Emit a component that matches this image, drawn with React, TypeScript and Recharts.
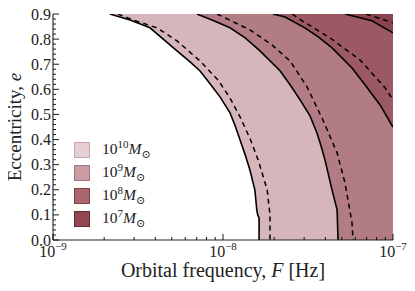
import React from 'react';
import { ComposedChart, Area, Line, XAxis, YAxis } from 'recharts';

// contour edges: [F in Hz, e]
const solid1e10: [number, number][] = [
  [2.16e-9, 0.9], [2.84e-9, 0.876], [3.72e-9, 0.845], [5.36e-9, 0.753], [6.4e-9, 0.709],
  [7.33e-9, 0.673], [8.39e-9, 0.622], [9.6e-9, 0.57], [1.1e-8, 0.506], [1.18e-8, 0.454],
  [1.26e-8, 0.398], [1.35e-8, 0.339], [1.44e-8, 0.279], [1.54e-8, 0.199], [1.58e-8, 0.12],
  [1.6e-8, 0.1], [1.63e-8, 0.088], [1.63e-8, 0],
];
const dashed1e10: [number, number][] = [
  [2.41e-9, 0.9], [2.96e-9, 0.876], [4.09e-9, 0.845], [5.36e-9, 0.793], [7.33e-9, 0.713],
  [9.35e-9, 0.637], [1.1e-8, 0.565], [1.26e-8, 0.49], [1.45e-8, 0.4], [1.61e-8, 0.319],
  [1.82e-8, 0.199], [1.89e-8, 0.1], [1.89e-8, 0],
];
const solid1e9: [number, number][] = [
  [7.03e-9, 0.9], [8.61e-9, 0.876], [1.1e-8, 0.845], [1.35e-8, 0.805], [1.65e-8, 0.753],
  [2.17e-8, 0.673], [2.48e-8, 0.618], [2.84e-8, 0.558], [3.25e-8, 0.494], [3.57e-8, 0.426],
  [3.77e-8, 0.375], [3.98e-8, 0.319], [4.38e-8, 0.199], [4.69e-8, 0.12], [4.75e-8, 0],
];
const dashed1e9: [number, number][] = [
  [9.23e-9, 0.9], [1.44e-8, 0.837], [1.94e-8, 0.777], [2.48e-8, 0.713], [3.12e-8, 0.61],
  [3.87e-8, 0.478], [4.69e-8, 0.347], [5.22e-8, 0.227], [5.74e-8, 0.068], [5.82e-8, 0],
];
const solid1e8: [number, number][] = [
  [1.97e-8, 0.9], [2.32e-8, 0.888], [3.03e-8, 0.845], [3.65e-8, 0.808], [4.38e-8, 0.765],
  [5.74e-8, 0.685], [6.84e-8, 0.618], [8.39e-8, 0.538], [1e-7, 0.45],
];
const dashed1e8: [number, number][] = [
  [2.55e-8, 0.9], [2.92e-8, 0.873], [4.26e-8, 0.805], [6.4e-8, 0.717], [8.98e-8, 0.606], [1e-7, 0.558],
];
const solid1e7: [number, number][] = [[5.22e-8, 0.9], [7.52e-8, 0.873], [1e-7, 0.825]];
const dashed1e7: [number, number][] = [[6.94e-8, 0.9], [1e-7, 0.865]];

const masses = ['10', '9', '8', '7'];
const regionColors = ['#d6b6bb', '#b17c84', '#9c5863', '#8c4350'];
const swatchFill = ['#e4cfd2', '#c99da3', '#aa6770', '#944652'];
const swatchEdge = ['#c6a5aa', '#a5737a', '#7e3f47', '#5e2a31'];

const majorF = [1e-9, 1e-8, 1e-7];
const minorF = [2, 3, 4, 5, 6, 7, 8, 9].flatMap((m) => [m * 1e-9, m * 1e-8]);
const xTicks = [...majorF, ...minorF];
const majorE = [0, 0.1, 0.2, 0.3, 0.4, 0.5, 0.6, 0.7, 0.8, 0.9];
const yTicks = Array.from({ length: 46 }, (_, i) => Math.round(i * 2) / 100);

const FONT = '"Liberation Serif", "DejaVu Serif", serif';
const EMAX = 0.9;

const band = (pts: [number, number][], toBottom: boolean) => {
  const rows = pts.map(([f, e]) => ({ f, band: [e, EMAX] }));
  if (toBottom) rows.push({ f: 1e-7, band: [0, EMAX] });
  return rows;
};
const line = (pts: [number, number][]) => pts.map(([f, e]) => ({ f, e }));

const bands = [band(solid1e10, true), band(solid1e9, true), band(solid1e8, false), band(solid1e7, false)];
const solids = [solid1e10, solid1e9, solid1e8, solid1e7].map(line);
const dashes = [dashed1e10, dashed1e9, dashed1e8, dashed1e7].map(line);

const isMajorF = (v: number) => majorF.some((m) => Math.abs(v - m) / m < 1e-6);
const isMajorE = (v: number) => majorE.some((m) => Math.abs(v - m) < 1e-6);

const BottomTick = ({ x, y, payload }: any) => {
  const v = payload.value;
  const major = isMajorF(v);
  const exp = Math.round(Math.log10(v));
  return (
    <g>
      <line x1={x} x2={x} y1={y} y2={y - (major ? 6 : 3)} stroke="#000" strokeWidth={0.9} />
      {major && (
        <text x={x} y={y + 17} textAnchor="middle" fontSize={16} fontFamily={FONT} fill="#222">
          10<tspan dy={-7} fontSize={11}>{'−' + -exp}</tspan>
        </text>
      )}
    </g>
  );
};

const TopTick = ({ x, y, payload }: any) => (
  <line x1={x} x2={x} y1={y} y2={y + (isMajorF(payload.value) ? 6 : 3)} stroke="#000" strokeWidth={0.9} />
);

const LeftTick = ({ x, y, payload }: any) => {
  const major = isMajorE(payload.value);
  return (
    <g>
      <line x1={x} x2={x + (major ? 6 : 3)} y1={y} y2={y} stroke="#000" strokeWidth={0.9} />
      {major && (
        <text x={x - 2} y={y} dy="0.35em" textAnchor="end" fontSize={16} fontFamily={FONT} fill="#222">
          {payload.value.toFixed(1)}
        </text>
      )}
    </g>
  );
};

const RightTick = ({ x, y, payload }: any) => (
  <line x1={x} x2={x - (isMajorE(payload.value) ? 6 : 3)} y1={y} y2={y} stroke="#000" strokeWidth={0.9} />
);

const XTitle = (props: any) => {
  const { x, y, width } = props.viewBox;
  return (
    <text x={x + width / 2} y={y + 37} textAnchor="middle" fontSize={20} fontFamily={FONT} fill="#222">
      Orbital frequency, <tspan fontStyle="italic">F</tspan> [Hz]
    </text>
  );
};

const YTitle = (props: any) => {
  const { y, height } = props.viewBox;
  const cy = y + height / 2;
  return (
    <text x={21} y={cy} transform={`rotate(-90 21 ${cy})`} textAnchor="middle" fontSize={19} fontFamily={FONT} fill="#222">
      Eccentricity, <tspan fontStyle="italic">e</tspan>
    </text>
  );
};

const MassLegend = () => (
  <div style={{ position: 'absolute', left: 74, top: 138, fontFamily: FONT, fontSize: 15.5, color: '#222' }}>
    {masses.map((m, i) => (
      <div key={m} style={{ display: 'flex', alignItems: 'center', height: 23 }}>
        <span
          style={{
            display: 'inline-block', width: 14, height: 14, background: swatchFill[i],
            border: `1px solid ${swatchEdge[i]}`, marginRight: 12,
          }}
        />
        <span>
          10<sup style={{ fontSize: 11 }}>{m}</sup>
          <i>M</i>
          <sub style={{ fontSize: 11 }}>⊙</sub>
        </span>
      </div>
    ))}
  </div>
);

export default function App() {
  return (
    <div style={{ position: 'relative', width: 408, height: 288, margin: '-8px 0 0 -8px' }}>
      <ComposedChart width={408} height={288} margin={{ top: 14, right: 15, bottom: 0, left: 8 }}>
        {bands.map((d, i) => (
          <Area
            key={`band-${i}`}
            data={d}
            dataKey="band"
            type="linear"
            stroke="none"
            fill={regionColors[i]}
            fillOpacity={1}
            dot={false}
            activeDot={false}
            isAnimationActive={false}
          />
        ))}
        {dashes.map((d, i) => (
          <Line
            key={`dash-${i}`}
            data={d}
            dataKey="e"
            type="linear"
            stroke="#000"
            strokeWidth={1.5}
            strokeDasharray="5 4"
            dot={false}
            activeDot={false}
            isAnimationActive={false}
          />
        ))}
        {solids.map((d, i) => (
          <Line
            key={`solid-${i}`}
            data={d}
            dataKey="e"
            type="linear"
            stroke="#000"
            strokeWidth={1.6}
            dot={false}
            activeDot={false}
            isAnimationActive={false}
          />
        ))}
        <XAxis
          dataKey="f"
          type="number"
          scale="log"
          domain={[1e-9, 1e-7]}
          allowDataOverflow
          ticks={xTicks}
          interval={0}
          tick={BottomTick}
          tickLine={false}
          tickSize={0}
          tickMargin={0}
          height={48}
          axisLine={{ stroke: '#222', strokeWidth: 1.1 }}
          label={XTitle}
        />
        <XAxis
          xAxisId="top"
          orientation="top"
          type="number"
          scale="log"
          domain={[1e-9, 1e-7]}
          allowDataOverflow
          ticks={xTicks}
          interval={0}
          tick={TopTick}
          tickLine={false}
          tickSize={0}
          tickMargin={0}
          height={0}
          axisLine={{ stroke: '#222', strokeWidth: 1.1 }}
        />
        <YAxis
          type="number"
          domain={[0, EMAX]}
          allowDataOverflow
          ticks={yTicks}
          interval={0}
          tick={LeftTick}
          tickLine={false}
          tickSize={0}
          tickMargin={0}
          width={45}
          axisLine={{ stroke: '#222', strokeWidth: 1.1 }}
          label={YTitle}
        />
        <YAxis
          yAxisId="right"
          orientation="right"
          type="number"
          domain={[0, EMAX]}
          allowDataOverflow
          ticks={yTicks}
          interval={0}
          tick={RightTick}
          tickLine={false}
          tickSize={0}
          tickMargin={0}
          width={0}
          axisLine={{ stroke: '#222', strokeWidth: 1.1 }}
        />
      </ComposedChart>
      <MassLegend />
    </div>
  );
}
